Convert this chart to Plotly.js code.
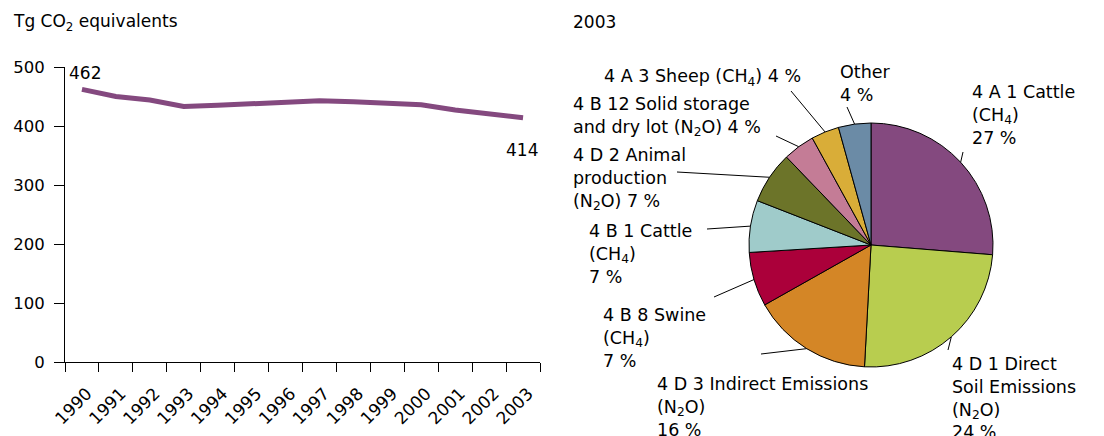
<!DOCTYPE html>
<html>
<head>
<meta charset="utf-8">
<script src="https://cdn.plot.ly/plotly-3.0.1.min.js"></script>
<style>html,body{margin:0;padding:0;background:#fff;}#chart{width:1104px;height:436px;}</style>
</head>
<body>
<div id="chart"></div>
<script>
// ---- data ----
const years = ['1990','1991','1992','1993','1994','1995','1996','1997','1998','1999','2000','2001','2002','2003'];
const emissions = [462, 450, 444, 433, 435, 437, 440, 443, 441, 438, 436, 427, 420, 414];
const yTicks = [0, 100, 200, 300, 400, 500];

const pieCategories = ['4 A 1 Cattle (CH4)', '4 D 1 Direct Soil Emissions (N2O)', '4 D 3 Indirect Emissions (N2O)',
  '4 B 8 Swine (CH4)', '4 B 1 Cattle (CH4)', '4 D 2 Animal production (N2O)',
  '4 B 12 Solid storage and dry lot (N2O)', '4 A 3 Sheep (CH4)', 'Other'];
const pieShares = [26.3, 24.6, 16.0, 7.2, 6.9, 6.9, 4.2, 3.7, 4.3];
const pieLabelText = [
  '4 A 1 Cattle<br>(CH<sub>4</sub>)<br>27 %',
  '4 D 1 Direct<br>Soil Emissions<br>(N<sub>2</sub>O)<br>24 %',
  '4 D 3 Indirect Emissions<br>(N<sub>2</sub>O)<br>16 %',
  '4 B 8 Swine<br>(CH<sub>4</sub>)<br>7 %',
  '4 B 1 Cattle<br>(CH<sub>4</sub>)<br>7 %',
  '4 D 2 Animal<br>production<br>(N<sub>2</sub>O) 7 %',
  '4 B 12 Solid storage<br>and dry lot (N<sub>2</sub>O) 4 %',
  '4 A 3 Sheep (CH<sub>4</sub>) 4 %',
  'Other<br>4 %'
];
const pieColors = ['#84497f', '#b8cd4f', '#d48626', '#ab003a', '#9fcbca', '#6c7429', '#c47c96', '#d9ad38', '#6b8ba6'];

// ---- layout helpers (pixel -> paper) ----
const W = 1104, H = 436;
const px = x => x / W;
const py = y => 1 - y / H;
const FONT = 'DejaVu Sans, Verdana, sans-serif';

// pie geometry (pixels)
const cx = 871, cy = 245, R = 122;
// label placement (left x, top y) and leader-line outer end (pixels)
const labelPos = [[970, 80], [950, 352], [655, 372], [601, 303], [587, 219], [571, 143], [571, 92], [602, 64], [838, 60]];
const leaderEnd = [[963, 152], [948, 350], [761, 354], [714, 297], [707, 229], [677, 172], [776, 136], [791, 91], [847, 107]];

const total = pieShares.reduce((a, b) => a + b, 0);
const shapes = [];
let cum = 0;
pieShares.forEach((v, i) => {
  const th = 2 * Math.PI * (cum + v / 2) / total;
  cum += v;
  const x0 = cx + R * Math.sin(th), y0 = cy - R * Math.cos(th);
  shapes.push({type: 'line', xref: 'paper', yref: 'paper',
    x0: px(x0), y0: py(y0), x1: px(leaderEnd[i][0]), y1: py(leaderEnd[i][1]),
    line: {color: '#000', width: 1}});
});

const last = years.length - 1;
const annotations = [
  {text: 'Tg CO<sub>2</sub> equivalents', xref: 'paper', yref: 'paper', x: px(11), y: py(22),
   xanchor: 'left', yanchor: 'middle', showarrow: false, font: {size: 17, color: '#000', family: FONT}},
  {text: '2003', xref: 'paper', yref: 'paper', x: px(571), y: py(22),
   xanchor: 'left', yanchor: 'middle', showarrow: false, font: {size: 17, color: '#000', family: FONT}},
  {text: String(emissions[0]), xref: 'x', yref: 'y', x: 0, y: emissions[0],
   xanchor: 'left', yanchor: 'middle', xshift: -15, yshift: 16, showarrow: false,
   font: {size: 17, color: '#000', family: FONT}},
  {text: String(emissions[last]), xref: 'x', yref: 'y', x: last, y: emissions[last],
   xanchor: 'center', yanchor: 'middle', xshift: -1, yshift: -32, showarrow: false,
   font: {size: 17, color: '#000', family: FONT}}
];
pieLabelText.forEach((t, i) => {
  annotations.push({text: t, xref: 'paper', yref: 'paper', x: px(labelPos[i][0]), y: py(labelPos[i][1]),
    xanchor: 'left', yanchor: 'top', align: 'left', showarrow: false,
    font: {size: 17.5, color: '#000', family: FONT}});
});

const traces = [
  {type: 'scatter', mode: 'lines', x: years, y: emissions, xaxis: 'x', yaxis: 'y',
   line: {color: '#84497f', width: 5}, hoverinfo: 'x+y', showlegend: false},
  {type: 'pie', labels: pieCategories, values: pieShares, sort: false, direction: 'clockwise', rotation: 0,
   marker: {colors: pieColors, line: {color: '#000', width: 1}}, textinfo: 'none', showlegend: false,
   domain: {x: [px(cx - R), px(cx + R)], y: [py(cy + R), py(cy - R)]}}
];

const layout = {
  width: W, height: H,
  margin: {l: 0, r: 0, t: 0, b: 0},
  paper_bgcolor: '#fff', plot_bgcolor: '#fff',
  font: {family: FONT, size: 16, color: '#000'},
  showlegend: false,
  xaxis: {domain: [px(65), px(540)], type: 'category', range: [-0.5, years.length - 0.5],
    tickson: 'boundaries', ticks: 'outside', ticklen: 9, tickwidth: 1, tickcolor: '#000',
    ticklabelstandoff: 14, ticklabelshift: 5,
    showline: true, linecolor: '#000', linewidth: 1, showgrid: false, zeroline: false,
    tickangle: -45, tickfont: {size: 17, family: FONT, color: '#000'}, fixedrange: true},
  yaxis: {domain: [py(362), py(67)], range: [0, 500], tickvals: yTicks,
    ticks: 'outside', ticklen: 10, tickwidth: 1, tickcolor: '#000', ticklabelstandoff: 6,
    showline: true, linecolor: '#000', linewidth: 1, showgrid: false, zeroline: false,
    tickfont: {size: 16.5, family: FONT, color: '#000'}, fixedrange: true},
  shapes: shapes,
  annotations: annotations
};

Plotly.newPlot('chart', traces, layout, {displayModeBar: false, staticPlot: true});
</script>
</body>
</html>
